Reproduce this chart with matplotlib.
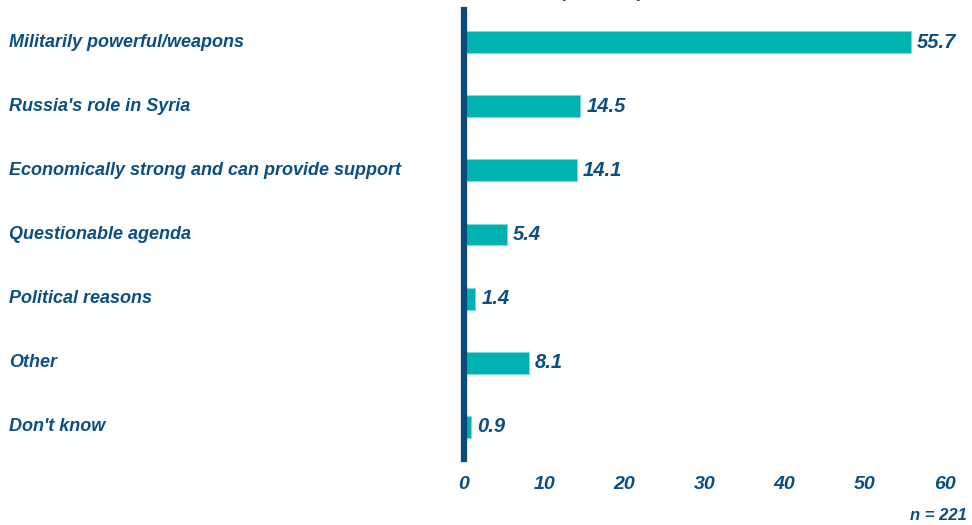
import matplotlib
matplotlib.use("Agg")
import matplotlib.pyplot as plt

categories = ["Militarily powerful/weapons", "Russia's role in Syria",
              "Economically strong and can provide support", "Questionable agenda",
              "Political reasons", "Other", "Don't know"]
values = [55.7, 14.5, 14.1, 5.4, 1.4, 8.1, 0.9]
xticks = [0, 10, 20, 30, 40, 50, 60]
title = "(Percent)"
note = "n = 221"

text_c = "#0b4f82"
bar_c = "#00b2b2"
font = "Liberation Sans"

fig = plt.figure(figsize=(9.72, 5.25), dpi=100)
ax = fig.add_axes([464/972, (525-459)/525, (945-464)/972, 449/525])

y = list(range(len(categories)))
ax.barh(y, values, height=0.34, color=bar_c, edgecolor="#7fd8d8", linewidth=0.6, zorder=2)
ax.set_ylim(len(categories)-0.5, -0.5)
ax.set_xlim(0, 60)

for s in ["top", "right", "bottom"]:
    ax.spines[s].set_visible(False)
ax.spines["left"].set_color("#0a4a7a")
ax.spines["left"].set_linewidth(4.5)
ax.spines["left"].set_zorder(3)

ax.set_yticks([])
ax.set_xticks(xticks)
ax.set_xticklabels([str(t) for t in xticks], family=font, weight="bold", style="italic",
                   fontsize=14, color=text_c)
ax.tick_params(axis="x", length=0, pad=12)

for yi, (cat, v) in enumerate(zip(categories, values)):
    ax.annotate(cat, xy=(0, yi), xycoords=("figure fraction", "data"), xytext=(9, 0),
                textcoords="offset pixels", ha="left", va="center", family=font,
                weight="bold", style="italic", fontsize=13, color=text_c)
    ax.annotate(f"{v:.1f}", xy=(v, yi), xytext=(6, 0), textcoords="offset pixels",
                ha="left", va="center", family=font, weight="bold", style="italic",
                fontsize=14.5, color=text_c)

fig.text(603/972, 528/525, title, ha="center", va="baseline", family=font,
         weight="bold", style="italic", fontsize=14, color=text_c)
fig.text(967/972, 1 - 516/525, note, ha="right", va="center", family=font,
         weight="bold", style="italic", fontsize=12, color=text_c)

fig.savefig("out.png", dpi=100)
